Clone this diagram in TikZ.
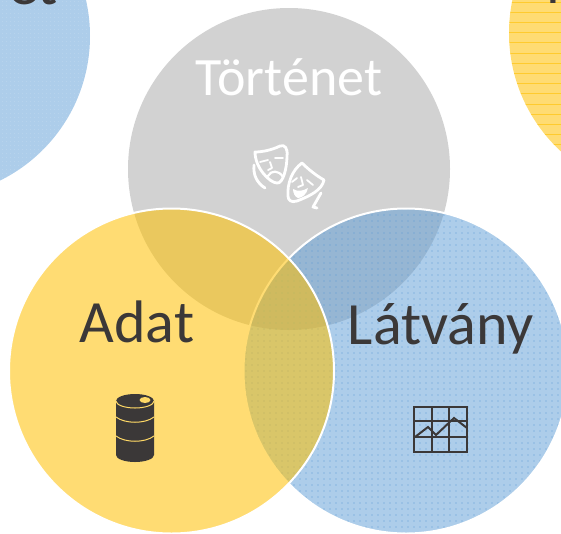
\documentclass[tikz,border=0pt]{standalone}
\usepackage{fontspec}
\setmainfont{Carlito}
\usetikzlibrary{patterns.meta}
\definecolor{darktext}{HTML}{3B3838}
\definecolor{barBlue}{HTML}{5B9BD5}
\definecolor{barGold}{HTML}{FFC000}
\definecolor{barGray}{HTML}{A5A5A5}
\tikzset{
  venn/.style={circle, minimum size=322pt, inner sep=0pt, outer sep=0pt},
  rim/.style={draw=white, line width=2pt, minimum size=325pt},
  title/.style={font=\fontsize{60}{60}\selectfont, anchor=base, inner sep=0pt},
  mask/.style={draw=white, line width=2.8pt, line join=round, line cap=round},
  chartline/.style={draw=darktext, line width=2pt}
}

\begin{document}
\begin{tikzpicture}[x=1pt,y=-1pt]
    \useasboundingbox (0,0) rectangle (561,533);
    \clip (0,0) rectangle (561,533);

    % Neighbouring circles, cut by the page
    \node[venn, preaction={fill=barBlue, fill opacity=0.5}, pattern={Dots[distance=4pt, radius=0.35pt]}, pattern color=barBlue!35] (leftcircle) at (-71,36) {};
    \node[venn, fill=barGold, fill opacity=0.55] (rightcircle) at (670,33) {};
    \begin{scope}
        \clip (670,33) circle (161pt);
        \foreach \y in {2,12.2,...,200} {
            \draw[barGold, opacity=0.6, line width=0.9pt] (500,\y) -- (561,\y);
        }
    \end{scope}
    \node[title, text=darktext, anchor=base east] (leftword) at (58,4) {et};
    \node[title, text=darktext] (rightword) at (553.5,3) {l};

    % Three main circles
    \node[venn, fill=barGray, fill opacity=0.5] (storycircle) at (289,169) {};
    \node[venn, rim, preaction={fill=barBlue, fill opacity=0.5}, pattern={Dots[distance=6pt, radius=0.55pt]}, pattern color=barBlue] (visualcircle) at (406,371) {};
    \node[venn, rim, fill=barGold, fill opacity=0.55] (datacircle) at (171.5,371) {};

    % Labels
    \node[title, text=white, font=\fontsize{54}{54}\selectfont] (storylabel) at (289,95) {Történet};
    \node[title, text=darktext] (datalabel) at (137,342) {Adat};
    \node[title, text=darktext] (visuallabel) at (441,344) {Látvány};

    % Barrel
    \fill[darktext] (116,401) arc[start angle=180, end angle=360, x radius=19, y radius=7]
        -- (154,455) arc[start angle=0, end angle=180, x radius=19, y radius=7] -- cycle;
    \draw[barGold!60, line width=1pt] (116,401) arc[start angle=180, end angle=0, x radius=19, y radius=7];
    \draw[barGold!60, line width=1pt] (116,417) .. controls (125,424) and (145,424) .. (154,417);
    \draw[barGold!60, line width=1pt] (116,436) .. controls (125,443) and (145,443) .. (154,436);
    \fill[barGold!60] (145,400) ellipse[x radius=5.5, y radius=3];

    % Line chart
    \draw[chartline, line width=1.4pt] (414,407) rectangle (467,452);
    \draw[chartline, line width=1.4pt] (432,407) -- (432,452) (449,407) -- (449,452)
        (414,421) -- (467,421) (414,437) -- (467,437);
    \draw[chartline] (415,437) -- (428,427) -- (436,435) -- (454,418) -- (467,428);

    % Masks
    \draw[mask] (255,152) .. controls (262,152) and (272,150) .. (280,146) .. controls (285,144) and (288,149) .. (287,156)
        .. controls (287,168) and (283,184) .. (277,183) .. controls (270,183) and (255,168) .. (255,152) -- cycle;
    \draw[mask] (254,165) .. controls (253,175) and (257,183) .. (265,188);
    \draw[mask, line width=1.8pt] (260,162) -- (268,160) (275,158) -- (283,158)
        (270,162) -- (272,168) -- (268,170);
    \draw[mask, line width=2.2pt] (268,176) .. controls (271,170) and (279,170) .. (283,177);
    \draw[mask] (302,163) .. controls (309,170) and (317,176) .. (324,180) .. controls (322,190) and (310,196) .. (297,201)
        .. controls (291,203) and (288,200) .. (288,196) .. controls (287,184) and (292,170) .. (302,163) -- cycle;
    \draw[mask] (321,193) -- (313,207) -- (317,208);
    \draw[mask, line width=1.8pt] (292,182) -- (297,178) (307,180) -- (313,185)
        (301,177) -- (303,185) -- (298,187);
    \fill[white] (293,189) .. controls (298,192) and (303,191) .. (308,188) .. controls (307,194) and (302,198) .. (298,198) .. controls (295,197) and (293,193) .. (293,189) -- cycle;
\end{tikzpicture}
\end{document}
